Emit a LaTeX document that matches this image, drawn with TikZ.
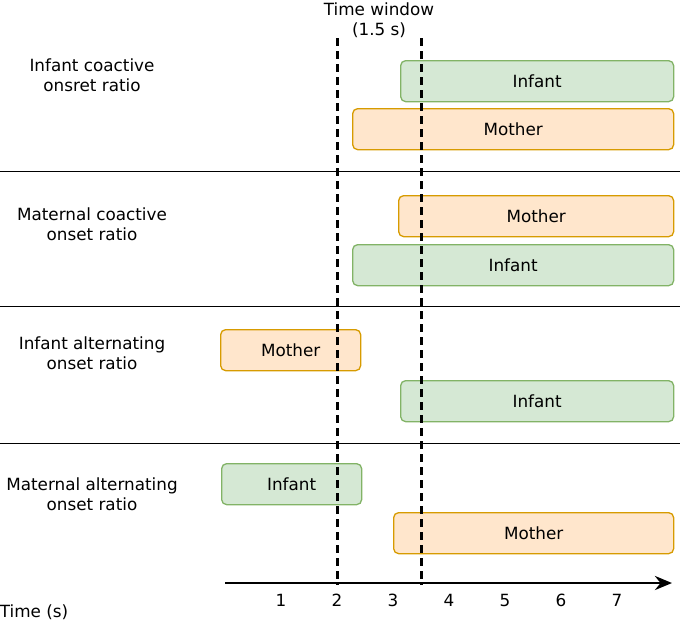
\documentclass[tikz,border=0pt]{standalone}
\usepackage{fontspec}
\setmainfont{DejaVu Sans}
\usetikzlibrary{arrows.meta}

\definecolor{infantfill}{HTML}{D5E8D4}
\definecolor{infantline}{HTML}{82B366}
\definecolor{motherfill}{HTML}{FFE6CC}
\definecolor{motherline}{HTML}{D79B00}

\begin{document}
\begin{tikzpicture}[x=1pt, y=-1pt,
		every node/.style={font=\fontsize{16.8}{20}\selectfont, inner sep=0pt},
		bar/.style={draw, line width=1.3pt, rounded corners=5pt, anchor=north west, minimum height=41pt},
		infantbar/.style={bar, fill=infantfill, draw=infantline},
		motherbar/.style={bar, fill=motherfill, draw=motherline},
		rowlabel/.style={align=center},
		window/.style={line width=3pt, dash pattern=on 8pt off 5pt},
		sep/.style={line width=1pt}
			]
	\useasboundingbox (0,0) rectangle (680,625);

	% rows
	\draw[sep] (0,171) -- (680,171);
	\draw[sep] (0,306) -- (680,306);
	\draw[sep] (0,443) -- (680,443);

	\node[rowlabel] (lab1) at (92,75) {Infant coactive\\onsret ratio};
	\node[rowlabel] (lab2) at (92,224) {Maternal coactive\\onset ratio};
	\node[rowlabel] (lab3) at (92,353) {Infant alternating\\onset ratio};
	\node[rowlabel] (lab4) at (92,494) {Maternal alternating\\onset ratio};

	\node[infantbar, minimum width=273pt] (inf1) at (400,60) {Infant};
	\node[motherbar, minimum width=321pt] (mot1) at (352,108) {Mother};
	\node[motherbar, minimum width=275pt] (mot2) at (398,195) {Mother};
	\node[infantbar, minimum width=321pt] (inf2) at (352,244) {Infant};
	\node[motherbar, minimum width=140pt] (mot3) at (220,329) {Mother};
	\node[infantbar, minimum width=273pt] (inf3) at (400,380) {Infant};
	\node[infantbar, minimum width=140pt] (inf4) at (221,463) {Infant};
	\node[motherbar, minimum width=280pt] (mot4) at (393,512) {Mother};

	% time window
	\coordinate (wa) at (337,38);
	\coordinate (wb) at (421,38);
	\draw[window] (wa) -- (337,585);
	\draw[window] (wb) -- (421,585);
	\node[rowlabel] (win) at (379,20) {Time window\\(1.5 s)};

	% axis
	\coordinate (ax0) at (225,583);
	\coordinate (axend) at (672,583);
	\draw[line width=2.8pt, -{Stealth[length=17pt, width=14pt]}] (ax0) -- (axend);
	\foreach \t in {1,...,7}
		\node (tick\t) at (225+56*\t,600) {\t};
	\node (tlab) at (34,612) {Time (s)};
\end{tikzpicture}
\end{document}
